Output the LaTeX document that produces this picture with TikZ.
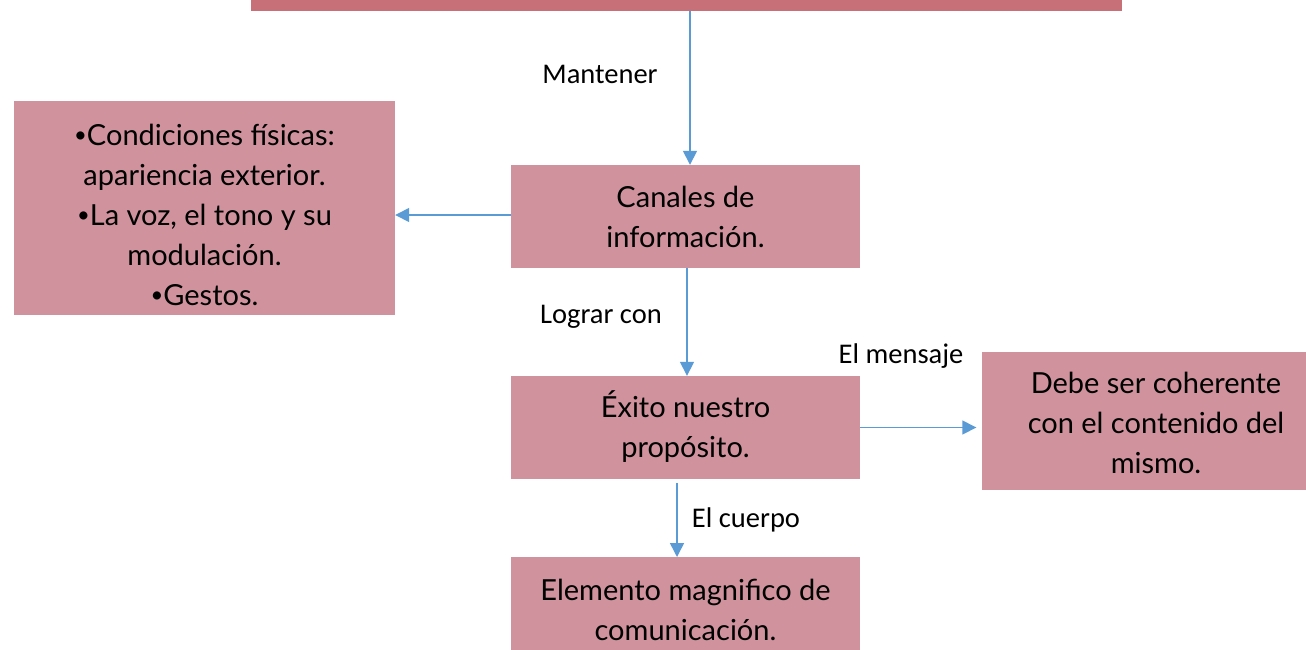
\documentclass[tikz,border=0pt]{standalone}
\usepackage{fontspec}
\setmainfont{Lato}
\newfontfamily\lblfont{Carlito}
\usetikzlibrary{arrows.meta}
\definecolor{boxfill}{HTML}{D0939E}
\definecolor{topfill}{HTML}{C87078}
\definecolor{arrowc}{HTML}{5B9BD5}
\newcommand{\bul}{\raisebox{2.5pt}{\fontsize{22}{40}\selectfont•}}
\tikzset{
  box/.style={fill=boxfill, draw=none, inner sep=0pt},
  boxtxt/.style={align=center, inner sep=0pt, anchor=north, font=\fontsize{29}{40}\selectfont},
  conn/.style={draw=arrowc, line width=1.5pt, -{Triangle[length=14pt,width=14pt]}},
  lbl/.style={font=\lblfont\fontsize{28.5}{34}\selectfont, inner sep=0pt}
}
\begin{document}
\begin{tikzpicture}[x=1pt,y=-1pt]
\useasboundingbox (0,0) rectangle (1306,649);
\fill[white] (0,0) rectangle (1306,649);
% boxes
\node[fill=topfill, minimum width=871pt, minimum height=22pt, inner sep=0pt] (top) at (686,0) {};
\node[box, minimum width=349pt, minimum height=103pt] (canales) at (685.5,216.5) {};
\node[box, minimum width=381pt, minimum height=214pt] (left) at (204.5,208) {};
\node[box, minimum width=349pt, minimum height=103pt] (exito) at (685.5,427.5) {};
\node[box, minimum width=324pt, minimum height=138pt] (right) at (1143.5,421) {};
\node[box, minimum width=349pt, minimum height=182pt, anchor=north] (elem) at (685.5,557) {};
% texts (anchor north = first baseline - 28)
\node[boxtxt] (canalesT) at (685.5,179) {\strut Canales de\\\strut información.};
\node[boxtxt] (leftT) at (204.5,117) {\strut\bul Condiciones físicas:\\\strut apariencia exterior.\\\strut\bul La voz, el tono y su\\\strut modulación.\\\strut\bul Gestos.};
\node[boxtxt] (exitoT) at (685.5,389) {\strut Éxito nuestro\\\strut propósito.};
\node[boxtxt] (rightT) at (1156,365) {\strut Debe ser coherente\\\strut con el contenido del\\\strut mismo.};
\node[boxtxt] (elemT) at (685.5,572) {\strut Elemento magnifico de\\\strut comunicación.};
% connectors
\draw[conn] (top.south -| 690,0) -- (canales.north -| 690,0);
\node[lbl] (l1) at (600,74) {Mantener};
\draw[conn] (canales.west) ++(0,-1.5) coordinate (a2s) -- (left.east |- a2s);
\draw[conn] (canales.south -| 687,0) -- (exito.north -| 687,0);
\node[lbl] (l3) at (601,317) {Lograr con};
\draw[conn] (exito.east) -- ([xshift=-5pt]right.west |- exito.east);
\node[lbl] (l4) at (901,356) {El mensaje};
\draw[conn] ([yshift=-4pt]exito.south -| 677,0) -- (elem.north -| 677,0);
\node[lbl] (l5) at (746,520) {El cuerpo};
\end{tikzpicture}
\end{document}
